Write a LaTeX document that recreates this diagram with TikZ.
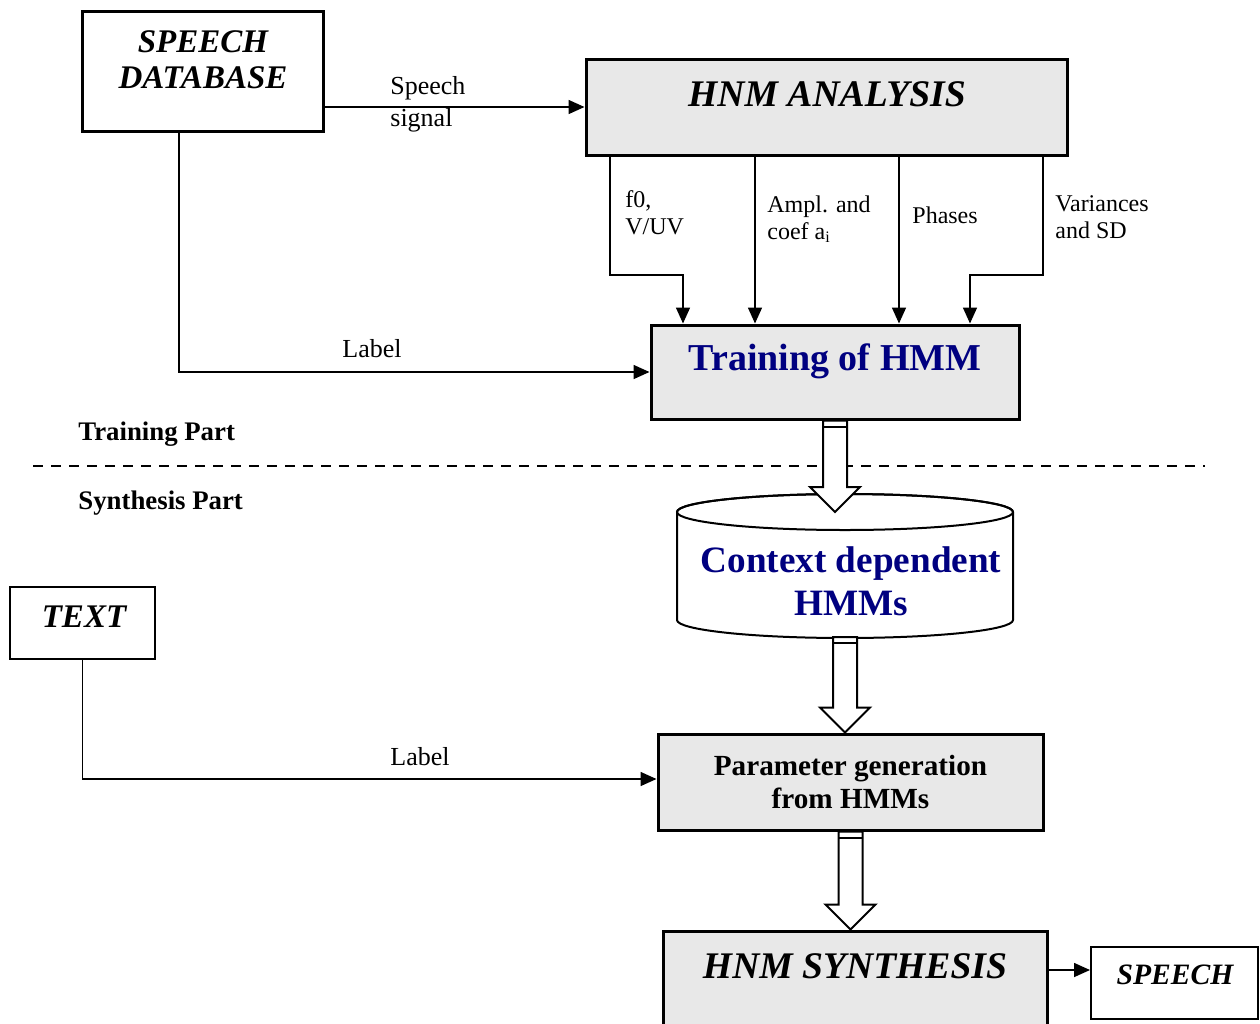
\documentclass[tikz,border=0pt]{standalone}
\usepackage{fontspec}
\setmainfont{Liberation Serif}
\usepackage{xcolor}
\usepackage{tikz}
\usetikzlibrary{arrows.meta,calc,positioning}

\definecolor{boxgray}{RGB}{232,232,232}
\definecolor{hmmblue}{RGB}{0,0,128}

\begin{document}
\begin{tikzpicture}[
    x=0.5pt, y=-0.5pt,
    box/.style={rectangle, draw, line width=1.5pt, fill=boxgray, inner sep=0pt},
    whitebox/.style={rectangle, draw, line width=1pt, fill=white, inner sep=0pt},
    arrow/.style={-{Triangle[length=8pt,width=7pt]}, line width=0.8pt},
    hollow/.style={draw, line width=1pt, fill=white},
    bigtitle/.style={inner sep=0pt, align=center, font=\fontsize{18.8}{22}\selectfont\bfseries\itshape},
    midtitle/.style={inner sep=0pt, align=center, font=\fontsize{16.5}{18}\selectfont\bfseries\itshape},
    bluetitle/.style={inner sep=0pt, align=center, text=hmmblue, font=\fontsize{19}{21.5}\selectfont\bfseries},
    label/.style={inner sep=0pt, align=left, font=\fontsize{12}{13.5}\selectfont},
    partlabel/.style={inner sep=0pt, anchor=west, font=\fontsize{13.4}{15}\selectfont\bfseries}
]
    \clip (0,0) rectangle (1260,1024);

    % training part
    \node[box, fill=white, minimum width=120.5pt, minimum height=60pt] (db) at (202.5,71) {};
    \node[midtitle] (dbtext) at (203,60) {SPEECH\\DATABASE};
    \node[box, minimum width=240.5pt, minimum height=48pt] (ana) at (826.5,107) {};
    \node[bigtitle] (anatext) at (827,94) {HNM ANALYSIS};
    \node[box, minimum width=184pt, minimum height=47pt] (train) at (835,372) {};
    \node[bluetitle] (traintext) at (835,361) {Training of HMM};

    \draw[arrow] (db.east |- ana.west) -- (ana.west);
    \node[label, anchor=west, font=\fontsize{13}{16}\selectfont] (sig) at (390,104) {Speech\\signal};

    \draw[arrow] (ana.south -| 610,0) -- (610,275) -| (train.north -| 683,0);
    \draw[arrow] (ana.south -| 755,0) -- (train.north -| 755,0);
    \draw[arrow] (ana.south -| 899,0) -- (train.north -| 899,0);
    \draw[arrow] (ana.south -| 1043,0) -- (1043,275) -| (train.north -| 970,0);
    \node[label, anchor=west] (f0lbl) at (625,213) {f0,\\V/UV};
    \node[label, anchor=west] (amplbl) at (767,219) {Ampl. and\\coef a\textsubscript{i}};
    \node[label, anchor=west] (phlbl) at (912,215) {Phases};
    \node[label, anchor=west] (varlbl) at (1055,217) {Variances\\and SD};

    \draw[arrow] (db.south -| 179,0) |- (train.west);
    \node[label, font=\fontsize{13}{15}\selectfont] (lbl1) at (372,349) {Label};

    % separator
    \node[partlabel] (trpart) at (78,434) {Training Part};
    \draw[dashed, dash pattern=on 5pt off 4pt, line width=0.8pt] (33,466) -- (1205,466);
    \node[partlabel] (sypart) at (78,503) {Synthesis Part};

    % synthesis part
    \coordinate (hmmtop) at (845,512);
    \coordinate (hmmbot) at (845,637);
    \draw[hollow] (677,512) -- (677,620) arc[start angle=180, end angle=360, x radius=84pt, y radius=9pt]
        -- (1013,512) arc[start angle=0, end angle=180, x radius=84pt, y radius=9pt] -- cycle;
    \draw[line width=1pt] (hmmtop) ellipse[x radius=84pt, y radius=9pt];
    \node[bluetitle, font=\fontsize{18.6}{21.5}\selectfont\bfseries] (hmms) at (851,581) {Context dependent\\HMMs};

    \node[whitebox, minimum width=72.5pt, minimum height=36pt] (textin) at (82.5,623) {};
    \node[midtitle] (textlbl) at (84,617) {TEXT};
    \node[box, minimum width=192.5pt, minimum height=48pt, align=center,
          font=\fontsize{14.6}{16.5}\selectfont\bfseries] (param) at (850.5,782) {Parameter generation\\from HMMs};
    \draw[arrow] (textin.south) |- (param.west |- 0,779);
    \node[label, font=\fontsize{13}{15}\selectfont] (lbl2) at (420,757) {Label};

    \node[box, minimum width=192pt, minimum height=54.5pt] (synth) at (855,985.5) {};
    \node[bigtitle] (synthtext) at (855,966) {HNM SYNTHESIS};
    \node[whitebox, minimum width=83.5pt, minimum height=36pt] (speech) at (1174.5,983) {};
    \node[midtitle, font=\fontsize{14.8}{17}\selectfont\bfseries\itshape] (speechtext) at (1175,975) {SPEECH};
    \draw[arrow] (synth.east |- 0,970) -- (speech.west |- 0,970);

    % hollow block arrows
    \foreach \src/\dst in {train.south/hmmtop, hmmbot/param.north, param.south/synth.north} {
        \draw[hollow] let \p1=(\src), \p2=(\dst) in
            (\x1-6pt,\y1) -- (\x1+6pt,\y1) -- (\x1+6pt,\y2+12.5pt) -- (\x1+12.5pt,\y2+12.5pt)
            -- (\x1,\y2) -- (\x1-12.5pt,\y2+12.5pt) -- (\x1-6pt,\y2+12.5pt) -- cycle;
        \draw[line width=1pt] let \p1=(\src) in (\x1-6pt,\y1-3pt) -- (\x1+6pt,\y1-3pt);
    }
\end{tikzpicture}
\end{document}
